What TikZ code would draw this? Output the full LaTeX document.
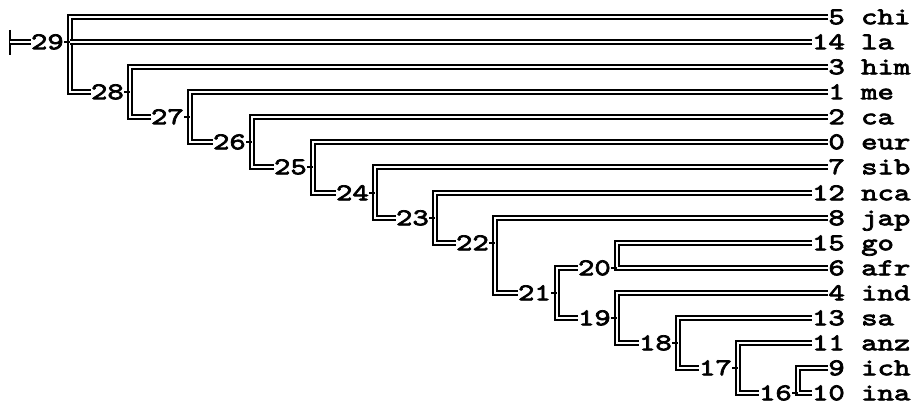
\documentclass[tikz,border=0pt]{standalone}
\usepackage{fontspec}
\usetikzlibrary{positioning}
\newfontfamily\treemono{lmmono10-regular.otf}[FakeBold=3,FakeStretch=1.3]
\newcommand{\treefont}{\fontsize{24}{24}\selectfont\treemono}

\begin{document}
\begin{tikzpicture}[
  x=1pt,
  y=-1pt,
  dl/.style={draw=black,double=white,double distance=1.5pt,line width=1.8pt},
  tick/.style={draw=black,line width=1.5pt},
  ilab/.style={font=\treefont,inner sep=0pt,anchor=east,
    text height=14.5pt,text depth=0pt},
  num/.style={ilab},
  leafname/.style={font=\treefont,inner sep=0pt,anchor=west,
    text height=14.5pt,text depth=0pt}
]
  \useasboundingbox (0,0) rectangle (919,412);

  % leaves
  \node[num] (chi) at (845, 17) {5};   \node[leafname] (chi-t) at (861, 17) {chi};
  \node[num] (la)  at (845, 42) {14};  \node[leafname] (la-t)  at (861, 42) {la};
  \node[num] (him) at (845, 67) {3};   \node[leafname] (him-t) at (861, 67) {him};
  \node[num] (me)  at (845, 92) {1};   \node[leafname] (me-t)  at (861, 92) {me};
  \node[num] (ca)  at (845,117) {2};   \node[leafname] (ca-t)  at (861,117) {ca};
  \node[num] (eur) at (845,142) {0};   \node[leafname] (eur-t) at (861,142) {eur};
  \node[num] (sib) at (845,167) {7};   \node[leafname] (sib-t) at (861,167) {sib};
  \node[num] (nca) at (845,193) {12};  \node[leafname] (nca-t) at (861,193) {nca};
  \node[num] (jap) at (845,218) {8};   \node[leafname] (jap-t) at (861,218) {jap};
  \node[num] (go)  at (845,243) {15};  \node[leafname] (go-t)  at (861,243) {go};
  \node[num] (afr) at (845,268) {6};   \node[leafname] (afr-t) at (861,268) {afr};
  \node[num] (ind) at (845,293) {4};   \node[leafname] (ind-t) at (861,293) {ind};
  \node[num] (sa)  at (845,318) {13};  \node[leafname] (sa-t)  at (861,318) {sa};
  \node[num] (anz) at (845,343) {11};  \node[leafname] (anz-t) at (861,343) {anz};
  \node[num] (ich) at (845,368) {9};   \node[leafname] (ich-t) at (861,368) {ich};
  \node[num] (ina) at (845,393) {10};  \node[leafname] (ina-t) at (861,393) {ina};

  % junctions
  \coordinate (j29) at ( 70, 42);
  \coordinate (j28) at (130, 92);
  \coordinate (j27) at (190,117);
  \coordinate (j26) at (252,142);
  \coordinate (j25) at (313,167);
  \coordinate (j24) at (375,193);
  \coordinate (j23) at (435,218);
  \coordinate (j22) at (495,243);
  \coordinate (j21) at (557,293);
  \coordinate (j20) at (617,268);
  \coordinate (j19) at (617,318);
  \coordinate (j18) at (678,343);
  \coordinate (j17) at (738,368);
  \coordinate (j16) at (798,393);

  \node[ilab] (n29) at ( 64, 42) {29};
  \node[ilab] (n28) at (124, 92) {28};
  \node[ilab] (n27) at (184,117) {27};
  \node[ilab] (n26) at (246,142) {26};
  \node[ilab] (n25) at (307,167) {25};
  \node[ilab] (n24) at (369,193) {24};
  \node[ilab] (n23) at (429,218) {23};
  \node[ilab] (n22) at (489,243) {22};
  \node[ilab] (n21) at (551,293) {21};
  \node[ilab] (n20) at (611,268) {20};
  \node[ilab] (n19) at (611,318) {19};
  \node[ilab] (n18) at (672,343) {18};
  \node[ilab] (n17) at (732,368) {17};
  \node[ilab] (n16) at (792,393) {16};

  % root
  \coordinate (root) at (10,42);
  \coordinate (root-a) at (10,30);
  \coordinate (root-b) at (10,55);
  \draw[line width=2.2pt] (root-a) -- (root-b);
  \draw[dl] (root) -- (n29.west);

  % brackets
  \draw[dl] (chi.west) -| (j29) |- (n28.west);
  \draw[dl] (j29) -- (la.west);
  \draw[dl] (him.west) -| (j28) |- (n27.west);
  \draw[dl] (me.west)  -| (j27) |- (n26.west);
  \draw[dl] (ca.west)  -| (j26) |- (n25.west);
  \draw[dl] (eur.west) -| (j25) |- (n24.west);
  \draw[dl] (sib.west) -| (j24) |- (n23.west);
  \draw[dl] (nca.west) -| (j23) |- (n22.west);
  \draw[dl] (jap.west) -| (j22) |- (n21.west);
  \draw[dl] (n20.west) -| (j21) |- (n19.west);
  \draw[dl] (go.west)  -| (j20) |- (afr.west);
  \draw[dl] (ind.west) -| (j19) |- (n18.west);
  \draw[dl] (sa.west)  -| (j18) |- (n17.west);
  \draw[dl] (anz.west) -| (j17) |- (n16.west);
  \draw[dl] (ich.west) -| (j16) |- (ina.west);

  % ticks
  \draw[tick] (n29.east) -- (j29);
  \draw[tick] (n28.east) -- (j28);
  \draw[tick] (n27.east) -- (j27);
  \draw[tick] (n26.east) -- (j26);
  \draw[tick] (n25.east) -- (j25);
  \draw[tick] (n24.east) -- (j24);
  \draw[tick] (n23.east) -- (j23);
  \draw[tick] (n22.east) -- (j22);
  \draw[tick] (n21.east) -- (j21);
  \draw[tick] (n20.east) -- (j20);
  \draw[tick] (n19.east) -- (j19);
  \draw[tick] (n18.east) -- (j18);
  \draw[tick] (n17.east) -- (j17);
  \draw[tick] (n16.east) -- (j16);
\end{tikzpicture}
\end{document}
